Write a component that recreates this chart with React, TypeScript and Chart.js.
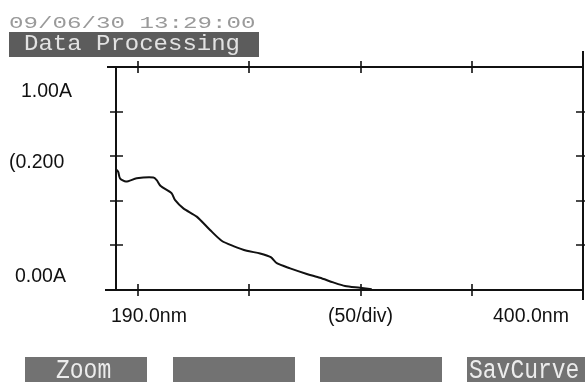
import React, { useEffect, useRef } from "react";
import { Chart, registerables } from "chart.js";

Chart.register(...registerables);

// ---- data ----
const wavelengths = [190, 191, 191.8, 194.5, 199.3, 206.8, 208.3, 210.1, 215, 216.5, 220.3, 226.3, 232.3, 237.5, 242.8, 248.8, 254.8, 259.6, 262.3, 268.3, 275.8, 281.7, 287.7, 293, 299.7, 305];
const absorbance = [0.541, 0.53, 0.501, 0.486, 0.501, 0.505, 0.493, 0.466, 0.434, 0.404, 0.366, 0.329, 0.269, 0.221, 0.197, 0.176, 0.164, 0.147, 0.12, 0.097, 0.072, 0.055, 0.034, 0.018, 0.01, 0.003];
const xMin = 190;
const xMax = 400;
const yMin = 0;
const yMax = 1.0;
const xTicks = [200, 250, 300, 350];
const yTicks = [0.2, 0.4, 0.6, 0.8];
const xLabels = ["190.0nm", "(50/div)", "400.0nm"];
const yLabels = ["1.00A", "(0.200", "0.00A"];
const timestamp = "09/06/30 13:29:00";
const title = "Data Processing";
const buttons = ["Zoom", "", "", "SavCurve"];

function drawMono(ctx: CanvasRenderingContext2D, text: string, x: number, y: number, fontPx: number, advance: number, color: string) {
  ctx.save();
  ctx.font = `${fontPx}px "Liberation Mono", "DejaVu Sans Mono", monospace`;
  ctx.fillStyle = color;
  ctx.textBaseline = "alphabetic";
  ctx.textAlign = "left";
  const natural = ctx.measureText("M").width || fontPx * 0.6;
  const sx = advance / natural;
  ctx.translate(x, y);
  ctx.scale(sx, 1);
  ctx.fillText(text, 0, 0);
  ctx.restore();
}

const decorPlugin = {
  id: "decor",
  beforeDatasetsDraw(chart: any) {
    const ctx: CanvasRenderingContext2D = chart.ctx;
    const xs = chart.scales.x;
    const ys = chart.scales.y;
    const L = xs.getPixelForValue(xMin);
    const R = xs.getPixelForValue(xMax);
    const T = ys.getPixelForValue(yMax);
    const B = ys.getPixelForValue(yMin);
    ctx.save();
    ctx.strokeStyle = "#111";
    ctx.lineWidth = 2;
    ctx.beginPath();
    // top
    ctx.moveTo(L - 9, T); ctx.lineTo(R, T);
    // bottom
    ctx.moveTo(L - 11, B); ctx.lineTo(R, B);
    // left
    ctx.moveTo(L, T); ctx.lineTo(L, B);
    // right
    ctx.moveTo(R, T - 16); ctx.lineTo(R, B + 10);
    ctx.stroke();
    ctx.lineWidth = 1.6;
    ctx.beginPath();
    for (const v of yTicks) {
      const py = Math.round(ys.getPixelForValue(v));
      ctx.moveTo(L - 6, py); ctx.lineTo(L + 7, py);
      ctx.moveTo(R - 7, py); ctx.lineTo(R + 3, py);
    }
    for (const v of xTicks) {
      const px = Math.round(xs.getPixelForValue(v));
      ctx.moveTo(px, T - 6); ctx.lineTo(px, T + 6);
      ctx.moveTo(px, B - 6); ctx.lineTo(px, B + 6);
    }
    ctx.stroke();
    ctx.restore();
  },
  afterDraw(chart: any) {
    const ctx: CanvasRenderingContext2D = chart.ctx;
    ctx.save();
    // axis labels
    ctx.font = '19.5px "Liberation Sans", Arial, sans-serif';
    ctx.fillStyle = "#111";
    ctx.textAlign = "left";
    ctx.textBaseline = "alphabetic";
    ctx.fillText(yLabels[0], 21, 96.5);
    ctx.fillText(yLabels[1], 9, 168);
    ctx.fillText(yLabels[2], 15, 281.5);
    ctx.fillText(xLabels[0], 111, 321.5);
    ctx.fillText(xLabels[1], 328, 321.5);
    ctx.fillText(xLabels[2], 493, 321.5);

    // timestamp
    drawMono(ctx, timestamp, 9, 28.3, 17, 14.5, "#9a9a9a");

    // title banner
    ctx.fillStyle = "#5c5c5c";
    ctx.fillRect(9, 32, 250, 25);
    drawMono(ctx, title, 24, 50, 22, 14.4, "#e2e2e2");

    // buttons
    const bx = [25, 173, 320, 467];
    for (let i = 0; i < buttons.length; i++) {
      ctx.fillStyle = "#727272";
      ctx.fillRect(bx[i], 357, 122, 26);
      if (buttons[i]) {
        const tx = i === 0 ? 56 : 469;
        drawMono(ctx, buttons[i], tx, 378, 27, 13.8, "#ececec");
      }
    }
    ctx.restore();
  },
};

export default function App() {
  const canvasRef = useRef<HTMLCanvasElement | null>(null);
  useEffect(() => {
    document.body.style.margin = "0";
    const canvas = canvasRef.current!;
    const points = wavelengths.map((w, i) => ({ x: w, y: absorbance[i] }));
    const chart = new Chart(canvas, {
      type: "line",
      data: {
        datasets: [
          {
            data: points,
            borderColor: "#111",
            borderWidth: 2,
            pointRadius: 0,
            tension: 0.25,
            fill: false,
          },
        ],
      },
      options: {
        animation: false,
        responsive: false,
        devicePixelRatio: 1,
        layout: { padding: { left: 116, top: 67, right: 2, bottom: 92 } },
        plugins: { legend: { display: false }, tooltip: { enabled: false }, title: { display: false } },
        scales: {
          x: { type: "linear", min: xMin, max: xMax, display: false },
          y: { type: "linear", min: yMin, max: yMax, display: false },
        },
      },
      plugins: [decorPlugin],
    });
    return () => chart.destroy();
  }, []);
  return (
    <div style={{ width: 585, height: 382, background: "#fff" }}>
      <canvas ref={canvasRef} width={585} height={382} />
    </div>
  );
}
